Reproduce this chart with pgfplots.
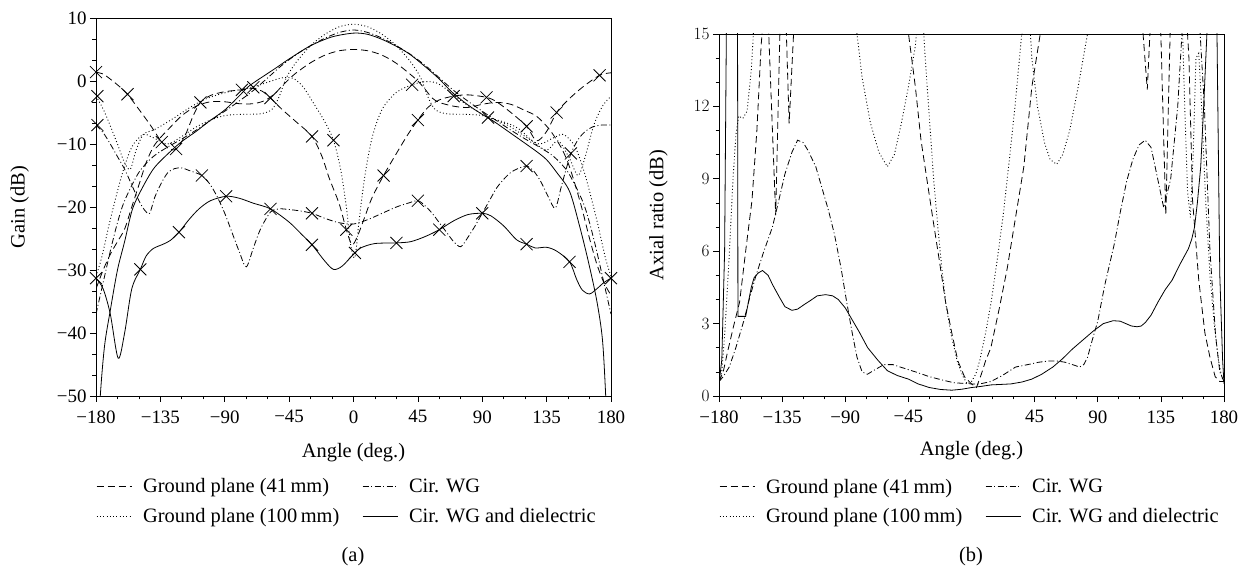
\documentclass[border=0pt]{standalone}
\usepackage{fontspec}
\setmainfont{Liberation Serif}
\usepackage{pgfplots}
\pgfplotsset{compat=1.18}

\tikzset{
  gp41/.style={black, line width=0.8bp, dash pattern=on 7bp off 4bp},
  gp100/.style={black, line width=0.9bp, dash pattern=on 0.9bp off 2.4bp},
  cwg/.style={black, line width=0.8bp, dash pattern=on 6bp off 2.5bp on 1bp off 2.5bp},
  cwgd/.style={black, line width=0.8bp, solid},
  xm/.style={only marks, mark=x, mark size=8.5bp, mark options={black, solid, line width=0.8bp}},
}

\pgfplotsset{
  panel/.style={
    scale only axis,
    xmin=-180, xmax=180,
    xtick={-180,-135,...,180},
    xticklabels={−180,−135,−90,−45,0,45,90,135,180},
    minor x tick num=2, minor y tick num=2,
    tick align=outside, tick pos=left,
    major tick length=6bp, minor tick length=3.5bp,
    tick style={black, line width=0.7bp},
    axis line style={line width=0.9bp},
    tick label style={font=\fontsize{19}{22}\selectfont},
    xticklabel style={yshift=-5bp},
    xlabel={Angle (deg.)},
    every axis x label/.style={at={(axis description cs:0.5,-0.15)}, anchor=center,
      font=\fontsize{20.5}{24}\selectfont},
    legend columns=2,
    legend cell align=left,
    legend style={draw=none, fill=none, inner sep=0pt, anchor=north west,
      font=\fontsize{20.5}{24}\selectfont,
      /tikz/every even column/.append style={column sep=21bp},
      /tikz/every odd column/.append style={column sep=9bp},
      row sep=10bp},
    legend image code/.code={\draw[#1] (0bp,0bp) -- (35bp,0bp);},
  }
}

\begin{document}
\begin{tikzpicture}
\useasboundingbox (0,0) rectangle (1254bp,571bp);

% ---------------- (a) gain ----------------
\begin{axis}[panel,
  at={(96bp,175bp)}, anchor=south west,
  width=515bp, height=378bp,
  ymin=-50, ymax=10,
  ytick={-50,-40,...,10},
  yticklabels={−50,−40,−30,−20,−10,0,10},
  ylabel={Gain (dB)},
  every axis y label/.style={at={(axis description cs:-0.148,0.5)}, rotate=90, anchor=center,
    font=\fontsize{20.5}{24}\selectfont},
  legend style={at={(axis description cs:0,-0.213)}},
]
% Cir. WG and dielectric, co-pol
\addplot[cwgd, smooth, tension=0.5, forget plot] coordinates {
(-179,-60)(-177,-50)(-174,-42)(-170,-36.4)(-165,-30)(-160,-25.5)(-155,-20.7)(-150,-18)
(-140,-14)(-129,-11.4)(-120,-9.6)(-110,-8)(-101,-6.4)(-90,-4.6)(-80,-2.4)(-73,-0.8)
(-60,1.2)(-54,2.1)(-45,3.5)(-30,5.6)(-15,7)(0,7.6)(10,7.4)(20,6.6)(30,5.5)(39,4.3)
(50,2.3)(60,0.3)(69,-1.8)(80,-3.8)(90,-5.3)(98,-6.4)(110,-8.3)(120,-9.9)(128,-11.2)
(135,-12.5)(142,-14.5)(151,-17.5)(158,-23)(164,-28.5)(170,-34.8)(174,-41)(176.3,-50)(178,-60)};
% Cir. WG and dielectric, cross-pol
\addplot[cwgd, smooth, tension=0.5, forget plot] coordinates {
(-180,-31.3)(-175,-33)(-170,-37)(-164.5,-44)(-160,-40)(-155,-33)(-149,-29.9)(-145,-27.8)
(-140,-26.6)(-133,-25.9)(-128,-25.3)(-122,-24)(-115,-22)(-108,-20.3)(-100,-19)(-89,-18.3)
(-80,-18.6)(-70,-19.4)(-58,-20.3)(-45,-22.4)(-36,-24.4)(-29,-26)(-20,-28.6)(-14,-29.9)
(-8,-29.4)(0,-27.5)(5,-26.5)(15,-25.8)(30,-25.7)(40,-25.5)(50,-24.7)(60,-23.6)(70,-22.2)
(80,-21.2)(90,-21)(96,-21.4)(105,-23)(114,-25.2)(121,-25.9)(127,-26.5)(135,-26.4)
(142,-27)(151,-28.7)(156,-31.5)(160,-33.2)(165,-33.8)(170,-33)(175,-32)(180,-31.3)};
\addplot[xm, forget plot] coordinates {
(-180,-31.3)(-149,-29.9)(-122,-24)(-89,-18.3)(-58,-20.3)(-29,-26)(1,-27.3)(30,-25.7)
(60,-23.6)(90,-21)(121,-25.9)(151,-28.7)(180,-31.3)};

% Cir. WG, co-pol
\addplot[cwg, smooth, tension=0.5, forget plot] coordinates {
(-180,-37)(-175,-32)(-170,-27)(-165,-22.5)(-160,-19)(-150,-14.5)(-140,-12)(-130,-10.5)
(-120,-9.2)(-110,-7.8)(-100,-6.3)(-90,-4.8)(-80,-3.2)(-70,-1.5)(-60,0.5)(-50,2.5)(-40,4.2)
(-30,5.6)(-20,6.8)(-10,7.7)(0,8.1)(10,7.7)(20,6.8)(30,5.6)(40,4.2)(50,2.5)(60,0.5)
(70,-1.5)(80,-3.2)(90,-4.8)(100,-6.3)(110,-7.8)(120,-9.2)(130,-10.5)(140,-12)(150,-14.5)
(160,-19)(165,-22.5)(170,-27)(175,-32)(180,-37)};
% Cir. WG, cross-pol
\addplot[cwg, smooth, tension=0.5, forget plot] coordinates {
(-180,-7)(-175,-8.2)(-170,-10)(-165,-12)(-160,-14)(-155,-16.5)(-150,-19)(-146,-20.5)
(-142.5,-21)(-139,-18.5)(-135,-16.5)(-130,-14.6)(-125,-13.9)(-120,-13.8)(-115,-14.2)
(-106,-15)(-100,-16.5)(-95,-18.5)(-90,-21)(-85,-24)(-80,-27)(-75,-29.5)(-70,-26.5)
(-65,-23.5)(-58,-20.8)(-52,-20.3)(-45,-20.4)(-38,-20.6)(-29,-21)(-20,-21.8)(-10,-22.5)
(0,-22.7)(10,-22)(20,-21)(30,-20)(38,-19.4)(45,-19)(50,-19.8)(55,-21)(60,-22.5)(65,-24)
(70,-25.5)(75,-26.3)(80,-24.8)(85,-23)(90,-21)(95,-19)(100,-17)(105,-15.6)(110,-14.5)
(115,-13.9)(121,-13.5)(126,-14.3)(131,-16)(136,-18.3)(141,-20.2)(145,-17)(148,-14.5)
(152,-11.5)(157,-9.3)(162,-8)(167,-7.3)(173,-7)(180,-7)};
\addplot[xm, forget plot] coordinates {
(-179,-7)(-106,-15)(-29,-21)(45,-19)(121,-13.5)(152,-11.5)};

% Ground plane 41 mm, co-pol
\addplot[gp41, smooth, tension=0.5, forget plot] coordinates {
(-180,-33)(-175,-30)(-170,-27.5)(-165,-25.5)(-160,-23.5)(-155,-20)(-150,-16.5)(-145,-13)
(-140,-10.5)(-135,-9)(-130,-7.8)(-120,-5.5)(-110,-4)(-100,-3.3)(-90,-3.3)(-80,-3.6)
(-70,-3.6)(-62,-3.1)(-55,-2)(-50,-0.8)(-45,0.3)(-40,1.3)(-30,2.9)(-20,4.1)(-10,4.8)(0,5)
(10,4.8)(20,4.1)(30,2.8)(40,1)(45,0)(50,-1.3)(55,-2.7)(60,-3.4)(70,-4)(80,-4.2)(90,-3.7)
(100,-3.4)(110,-3.7)(120,-4.7)(128,-5.6)(137,-7.7)(145,-10.5)(150,-13)(155,-16.5)
(160,-20.5)(165,-25)(170,-29)(175,-32)(180,-34)};
% Ground plane 41 mm, cross-pol
\addplot[gp41, smooth, tension=0.5, forget plot] coordinates {
(-180,1.4)(-175,1.1)(-170,0.3)(-164,-0.8)(-158,-2.1)(-150,-4.5)(-142,-7)(-134,-9.7)
(-128,-10.8)(-124,-10.8)(-118,-8.8)(-112,-5.5)(-107,-3.4)(-100,-2.3)(-90,-1.7)(-78,-1.4)
(-70,-1.2)(-64,-1.6)(-58,-2.7)(-50,-4.5)(-40,-6.5)(-29,-8.8)(-22,-12)(-17,-15.4)(-10,-19.5)
(-5,-23.6)(-1,-26)(3,-24.5)(8,-21.5)(13,-18.5)(21,-15)(30,-11.5)(38,-8.5)(45,-6.2)
(52,-4.2)(60,-3)(70,-2.4)(80,-2.2)(93,-2.6)(100,-3.3)(110,-5)(121,-7.2)(128,-9.5)
(135,-8)(142,-5)(150,-3)(160,-1)(172,0.9)(180,1.3)};
\addplot[xm, forget plot] coordinates {
(-180,1.4)(-158,-2.1)(-134,-9.7)(-124,-10.8)(-107,-3.4)(-78,-1.4)(-58,-2.7)(-29,-8.8)
(-5,-23.6)(21,-15)(45,-6.2)(70,-2.4)(93,-2.6)(121,-7.2)(142,-5)(172,0.9)};

% Ground plane 100 mm, co-pol
\addplot[gp100, smooth, tension=0.5, forget plot] coordinates {
(-180,-31)(-176,-28)(-170,-22)(-162,-15)(-155,-10.5)(-147,-8.5)(-140,-9)(-130,-10)
(-120,-8.8)(-110,-7.3)(-100,-6.2)(-90,-5.5)(-80,-5.3)(-65,-5.2)(-57,-4.5)(-52,-2.5)
(-47,0.5)(-40,3)(-30,5.6)(-20,7.4)(-10,8.6)(0,9)(10,8.6)(20,7.4)(30,5.6)(40,3)(47,0.5)
(52,-2.5)(57,-4.5)(65,-5.2)(80,-5.3)(90,-5.5)(100,-6.2)(110,-7.3)(120,-8.8)(130,-10)
(140,-9)(147,-8.5)(155,-10.5)(162,-15)(170,-22)(176,-28)(180,-31)};
% Ground plane 100 mm, cross-pol
\addplot[gp100, smooth, tension=0.5, forget plot] coordinates {
(-180,-2.4)(-176,-4)(-172,-6)(-165,-10)(-160,-13)(-156,-14)(-152,-11)(-147,-8.5)
(-140,-7.8)(-135,-7.2)(-125,-5.8)(-115,-4.3)(-105,-3)(-95,-2.2)(-85,-1.6)(-75,-1.2)
(-68,-0.8)(-60,-0.2)(-50,0.5)(-42,0.4)(-35,-1)(-28,-3.5)(-20,-6.5)(-14,-9.4)(-9,-14)
(-5,-20)(-2,-26)(1,-28)(4,-22)(8,-15)(13,-9)(20,-4.5)(30,-1.8)(41,-0.6)(50,-0.1)
(58,-0.3)(65,-1.3)(72,-2.6)(80,-3.9)(88,-5)(94,-5.8)(105,-6.5)(115,-7.5)(125,-9.5)
(135,-11)(143,-9.5)(151,-12.3)(157,-15)(162,-12)(168,-7)(174,-4)(180,-2.4)};
\addplot[xm, forget plot] coordinates {
(-179,-2.4)(-70,-1)(-14,-9.4)(41,-0.6)(94,-5.8)};

\addlegendimage{gp41}\addlegendentry{Ground plane (41\,mm)}
\addlegendimage{cwg}\addlegendentry{Cir. WG}
\addlegendimage{gp100}\addlegendentry{Ground plane (100\,mm)}
\addlegendimage{cwgd}\addlegendentry{Cir. WG and dielectric}
\end{axis}

% ---------------- (b) axial ratio ----------------
\begin{axis}[panel,
  at={(719bp,175bp)}, anchor=south west,
  width=505bp, height=362bp,
  ymin=0, ymax=15,
  ytick={0,3,...,15},
  ylabel={Axial ratio (dB)},
  every axis y label/.style={at={(axis description cs:-0.12,0.5)}, rotate=90, anchor=center,
    font=\fontsize{20.5}{24}\selectfont},
  legend style={at={(axis description cs:0,-0.223)}},
]
% Cir. WG and dielectric
\addplot[cwgd, forget plot] coordinates {
(-180,0.5)(-178,1.5)(-176,6)(-174.7,15.5)(-172,20)(-168,20)(-166.8,16)(-166.5,3.3)
(-161,3.3)(-157,4.5)(-155,4.9)(-152,5.1)(-149,5.2)(-145,5.0)(-141.7,4.6)(-137,4.1)
(-133,3.7)(-128,3.55)(-124,3.6)(-119,3.8)(-115,3.95)(-110,4.15)(-104,4.2)(-99,4.15)
(-95,4.0)(-90,3.65)(-86,3.25)(-80,2.65)(-74,2.0)(-67,1.5)(-60,1.05)(-53,0.85)(-45,0.7)
(-38,0.5)(-30,0.35)(-22,0.27)(-14,0.24)(-7,0.28)(0,0.35)(7,0.4)(14,0.46)(21,0.48)(28,0.5)
(36,0.58)(43,0.7)(50,0.9)(58,1.2)(65,1.55)(72,1.95)(80,2.35)(87,2.7)(94,3.0)(101,3.12)
(106,3.1)(110,3.0)(114,2.9)(118,2.87)(121,2.9)(124,3.05)(128,3.35)(133,3.9)(138,4.4)
(143,4.8)(149,5.5)(154.6,6.1)(157,6.5)(159,7.0)(161,8.0)(163.4,9.5)(165.5,12)(167.8,15)
(170,20)(174,20)(175,15)(177,5)(179,1.5)(180,0.5)};
% Cir. WG
\addplot[cwg, forget plot] coordinates {
(-180,0.6)(-177,0.8)(-172.7,1.2)(-168,2)(-162.4,3.1)(-158,4.1)(-153.6,5.0)(-148,6)
(-141.9,7.0)(-137,8.2)(-133,9.2)(-128,10.1)(-124,10.6)(-120,10.5)(-116.8,10.2)(-111,9.5)
(-106.5,8.6)(-102,7.7)(-97.7,6.7)(-93,5.3)(-89,3.9)(-85,2.6)(-81.6,1.6)(-78,1.0)
(-74.2,0.9)(-70,1.05)(-62.5,1.3)(-56,1.3)(-50.8,1.2)(-40,1.0)(-30,0.8)(-20,0.65)
(-12.6,0.55)(0,0.5)(6,0.5)(13.8,0.6)(22,0.85)(31.4,1.2)(40,1.3)(48,1.4)(55,1.45)(61,1.45)
(66.6,1.4)(72,1.3)(77,1.2)(80,1.3)(82.7,1.6)(86,2.3)(90,3.1)(95,4.6)(101.8,6.3)(106,7.6)
(110.6,8.9)(115,9.8)(119.4,10.4)(123.8,10.6)(128,10.3)(132,9.2)(137,7.8)(142,9)(147,12)
(151,16)(162,16)(166,12)(170,6)(174,2.5)(177,1.0)(180,0.6)};
% Ground plane 41 mm
\addplot[gp41, forget plot] coordinates {
(-180,0.6)(-177,1.0)(-174,1.8)(-170,2.8)(-165.3,3.9)(-161,6)(-156.5,8.1)(-153,11)
(-150,14.5)(-148,16)(-145.2,16)(-139.6,7.5)(-136.2,16)(-132.5,16)(-130,11.3)(-126,16)
(-50,16)(-44.9,15)(-40,12.8)(-36,10.6)(-31.6,8.9)(-27.3,7.25)(-22.9,5.6)(-18.5,3.9)
(-14,2.6)(-9.7,1.45)(-5,0.8)(0,0.5)(3.5,0.35)(7,0.9)(10,1.45)(13.8,2.0)(19.7,3.6)
(25.5,5.3)(31.4,7.4)(37.3,9.5)(43,12.8)(49,15)(51,16)(121,16)(125.3,12.7)(128,16)
(134.5,16)(138.5,7.5)(142,16)(153,16)(155,14)(157.6,8.1)(162,4.8)(166.4,2.6)(170,1.6)
(173.7,0.8)(177,0.6)(180,0.6)};
% Ground plane 100 mm
\addplot[gp100, forget plot] coordinates {
(-180,0.5)(-178,1.0)(-176,2.5)(-173,5.5)(-170,9)(-168,10.8)(-166,11.6)(-163,11.5)
(-160,11.8)(-157,13.5)(-155,15.5)(-150,16)(-84,16)(-81.6,15)(-78,13.2)(-72,11.3)
(-66,10.1)(-60,9.5)(-55,10)(-50,11.3)(-45,12.8)(-40,14.5)(-38,16)(-35,16)(-33,14)
(-30,11.5)(-27,9)(-24,7)(-21,5.2)(-18,3.7)(-14,2.4)(-10,1.4)(-6,0.8)(-3,0.5)(0,0.6)
(3,0.9)(6,1.5)(10,2.6)(14,3.9)(18,5.5)(22.6,7.5)(27,9.8)(31,12)(35.8,15)(38,16)(41,16)
(43,14)(47,12)(52,10.5)(56,9.8)(60.7,9.6)(65,10)(70,11)(76,12.8)(82.7,15)(86,16)
(150,16)(152,12)(154,8.5)(156,7.4)(158,10)(160,14)(162,14.2)(164,12)(167,8)(170,5)
(173,3)(176,1.5)(178,0.9)(180,0.5)};

\addlegendimage{gp41}\addlegendentry{Ground plane (41\,mm)}
\addlegendimage{cwg}\addlegendentry{Cir. WG}
\addlegendimage{gp100}\addlegendentry{Ground plane (100\,mm)}
\addlegendimage{cwgd}\addlegendentry{Cir. WG and dielectric}
\end{axis}

\node[font=\fontsize{20.5}{24}\selectfont] at (353bp,14bp) {(a)};
\node[font=\fontsize{20.5}{24}\selectfont] at (971bp,14bp) {(b)};
\end{tikzpicture}
\end{document}
